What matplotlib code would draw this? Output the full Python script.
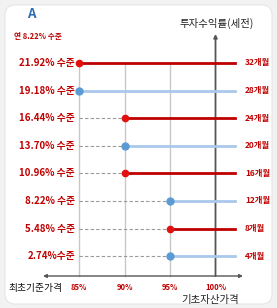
import matplotlib.pyplot as plt
from matplotlib.patches import FancyBboxPatch

plt.rcParams['font.family'] = ['Noto Sans CJK KR', 'DejaVu Sans']

# data
levels = ['21.92% 수준', '19.18% 수준', '16.44% 수준', '13.70% 수준',
          '10.96% 수준', '8.22% 수준', '5.48% 수준', '2.74%수준']
months = ['32개월', '28개월', '24개월', '20개월', '16개월', '12개월', '8개월', '4개월']
barrier = [85, 85, 90, 90, 90, 95, 95, 95]
series_color = ['red', 'blue', 'red', 'blue', 'red', 'blue', 'red', 'blue']
xticks = [85, 90, 95, 100]
xtick_labels = ['85%', '90%', '95%', '100%']

RED_LINE = '#c00000'
RED_DOT = '#e31010'
BLUE_LINE = '#a9c8ec'
BLUE_DOT = '#5b9bd5'
AXIS = '#555555'
GRID = '#c8c8c8'
TXT_RED = '#c00000'

W, H = 277, 308
fig = plt.figure(figsize=(W / 100, H / 100), dpi=100, facecolor='#f2f2f2')

# background panel
bg = fig.add_axes([0, 0, 1, 1])
bg.set_xlim(0, W)
bg.set_ylim(0, H)
bg.axis('off')
bg.add_patch(FancyBboxPatch((5, 4), W - 10, H - 9,
                            boxstyle='round,pad=0,rounding_size=10',
                            fc='white', ec='#e6e6e6', lw=0.8))

ax = fig.add_axes([0, 0, 1, 1])
ax.patch.set_alpha(0)
ppx = 9.1
x0 = 85 - 79 / ppx
ax.set_xlim(x0, x0 + W / ppx)
n = len(levels)
ys = [n - i for i in range(n)]
ppy = 27.6
ytop = ys[0] + 63 / ppy
ax.set_ylim(ytop - H / ppy, ytop)
ax.axis('off')

y_axis = ytop - 276 / ppy
x_end = x0 + 235 / ppx

# gridlines
for gx in xticks[:-1]:
    ax.plot([gx, gx], [y_axis, ys[0]], color=GRID, lw=1.0, zorder=1)

# axes arrows
ax.annotate('', xy=(x0 + 243 / ppx, y_axis), xytext=(x0 + 43 / ppx, y_axis),
            arrowprops=dict(arrowstyle='<|-|>', color=AXIS, lw=1.0,
                            mutation_scale=5, shrinkA=0, shrinkB=0))
ax.annotate('', xy=(100, ytop - 34 / ppy), xytext=(100, y_axis),
            arrowprops=dict(arrowstyle='-|>', color=AXIS, lw=1.3,
                            mutation_scale=5, shrinkA=0, shrinkB=0))

for lab, mon, b, c, y in zip(levels, months, barrier, series_color, ys):
    if b > 85:
        ax.plot([85, b], [y, y], color='#999999', lw=0.8, ls=(0, (3, 2)), zorder=2)
    if c == 'red':
        ax.plot([b, x_end], [y, y], color=RED_LINE, lw=2.0, zorder=3)
        ax.plot(b, y, 'o', ms=4.5, color=RED_DOT, zorder=4)
    else:
        ax.plot([b, x_end], [y, y], color=BLUE_LINE, lw=2.0, zorder=3)
        ax.plot(b, y, 'o', ms=5, color=BLUE_DOT, zorder=4)
    ax.text(x0 + 75 / ppx, y, lab, ha='right', va='center', fontsize=7,
            color=TXT_RED, fontweight='bold')
    ax.text(x0 + 245 / ppx, y, mon, ha='left', va='center', fontsize=6,
            color=TXT_RED, fontweight='bold')

# tick labels
ty = ytop - 288 / ppy
for tx, tl in zip(xticks, xtick_labels):
    ax.text(tx, ty, tl, ha='center', va='center', fontsize=5.5,
            color=TXT_RED, fontweight='bold')
ax.text(x0 + 62 / ppx, ty, '최초기준가격', ha='right', va='center', fontsize=7,
        color='#111111')
ax.text(x0 + 210 / ppx, ytop - 300 / ppy, '기초자산가격', ha='center', va='center',
        fontsize=7.5, color='#222222')
ax.text(x0 + 217 / ppx, ytop - 23 / ppy, '투자수익률(세전)', ha='center', va='center',
        fontsize=7.5, color='#222222')
ax.text(x0 + 14 / ppx, ytop - 36 / ppy, '연 8.22% 수준', ha='left', va='center',
        fontsize=5.5, color=TXT_RED, fontweight='bold')
ax.text(x0 + 27 / ppx, ytop - 14 / ppy, 'A', ha='left', va='center',
        fontsize=9.5, color='#2f6db5', fontweight='bold')

fig.savefig('out.png', dpi=100, facecolor=fig.get_facecolor())
